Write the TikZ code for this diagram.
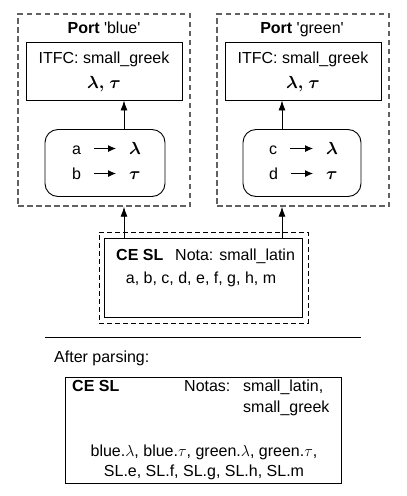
\documentclass[tikz,border=0pt]{standalone}
\usepackage{fix-cm}
\usepackage{amsmath}
\usepackage{fontspec}
\setmainfont{Liberation Sans}
\usetikzlibrary{arrows.meta}
\newcommand{\bgl}{\boldsymbol{\lambda}}
\newcommand{\bgt}{\boldsymbol{\tau}}
\begin{document}
\begin{tikzpicture}[x=1pt,y=-1pt,
  txt/.style={inner sep=0pt, anchor=base, font=\fontsize{16}{19}\selectfont},
  txtl/.style={txt, anchor=base west},
  grk/.style={txt, font=\fontsize{17.5}{20}\selectfont},
  grkl/.style={grk, anchor=base west},
  portbox/.style={draw=black!62, dash pattern=on 5.5pt off 3.5pt, line width=1.4pt, inner sep=0pt},
  solidbox/.style={draw=black, line width=0.9pt, inner sep=0pt},
  roundbox/.style={solidbox, rounded corners=13pt},
  cebox/.style={draw=black, dash pattern=on 5pt off 3pt, line width=0.8pt, inner sep=0pt},
  conn/.style={-{Latex[length=10pt,width=7pt]}, line width=0.9pt},
  sconn/.style={-{Latex[length=8pt,width=7pt]}, line width=0.9pt}]
\useasboundingbox (0,0) rectangle (407,496);

% Port boxes
\node[portbox, minimum width=172pt, minimum height=192pt] (portB) at (104,110) {};
\node[portbox, minimum width=172pt, minimum height=192pt] (portG) at (303,110) {};
\node[txt] (portBt) at (104,33) {\textbf{Port} \textquotesingle blue\textquotesingle};
\node[txt] (portGt) at (302,33) {\textbf{Port} \textquotesingle green\textquotesingle};

% ITFC boxes
\node[solidbox, minimum width=156pt, minimum height=58pt] (itfcB) at (104,71) {};
\node[solidbox, minimum width=156pt, minimum height=58pt] (itfcG) at (303,71) {};
\node[txt] (itfcBt) at (104,63) {ITFC: small\_greek};
\node[grk] (itfcBg) at (104,88) {$\bgl\boldsymbol{,}\;\bgt$};
\node[txt] (itfcGt) at (303,63) {ITFC: small\_greek};
\node[grk] (itfcGg) at (303,88) {$\bgl\boldsymbol{,}\;\bgt$};

% rounded mapping boxes
\node[roundbox, minimum width=120pt, minimum height=67pt] (mapB) at (105,163) {};
\node[roundbox, minimum width=118pt, minimum height=67pt] (mapG) at (302,163) {};
\node[txtl] (ma) at (72,154) {a};
\node[txtl] (mb) at (72,179) {b};
\node[grkl] (mla) at (129,154) {$\bgl$};
\node[grkl] (mta) at (129,179) {$\bgt$};
\node[txtl] (mc) at (269,154) {c};
\node[txtl] (md) at (269,179) {d};
\node[grkl] (mlb) at (326,154) {$\bgl$};
\node[grkl] (mtb) at (326,179) {$\bgt$};
\draw[sconn] ([xshift=13pt,yshift=5.5pt]ma.base east) -- ([xshift=-13pt,yshift=5.5pt]mla.base west);
\draw[sconn] ([xshift=13pt,yshift=5.5pt]mb.base east) -- ([xshift=-13pt,yshift=5.5pt]mta.base west);
\draw[sconn] ([xshift=13pt,yshift=5.5pt]mc.base east) -- ([xshift=-13pt,yshift=5.5pt]mlb.base west);
\draw[sconn] ([xshift=13pt,yshift=5.5pt]md.base east) -- ([xshift=-13pt,yshift=5.5pt]mtb.base west);

% CE SL box
\node[cebox, minimum width=209pt, minimum height=91pt] (ceout) at (203.5,277.5) {};
\node[solidbox, minimum width=198pt, minimum height=79pt] (cein) at (203,277.5) {};
\node[txtl] (cet) at (116,260) {\textbf{CE SL}};
\node[txtl] (cenota) at (175,260) {Nota: small\_latin};
\node[txt] (ceitems) at (201,283) {a, b, c, d, e, f, g, h, m};

% connectors
\coordinate (xB) at (124,0);
\coordinate (xG) at (282,0);
\draw[conn] (mapB.north -| xB) -- (itfcB.south -| xB);
\draw[conn] (mapG.north -| xG) -- (itfcG.south -| xG);
\draw[conn] (cein.north -| xB) -- (portB.south -| xB);
\draw[conn] (cein.north -| xG) -- (portG.south -| xG);

% separator
\coordinate (sepL) at (45,337);
\coordinate (sepR) at (361,337);
\draw[line width=0.9pt] (sepL) -- (sepR);
\node[txtl] (after) at (54,362) {After parsing:};

% result box
\node[solidbox, minimum width=276pt, minimum height=106pt] (res) at (203,430) {};
\node[txtl] (rcet) at (72,391) {\textbf{CE SL}};
\node[txtl] (rnotas) at (184,391) {Notas:};
\node[txtl] (rl1) at (243,391) {small\_latin,};
\node[txtl] (rl2) at (243,412) {small\_greek};
\node[txt] (rs1) at (204,456) {blue.$\lambda$, blue.$\tau$, green.$\lambda$, green.$\tau$,};
\node[txt] (rs2) at (204,476) {SL.e, SL.f, SL.g, SL.h, SL.m};
\end{tikzpicture}
\end{document}
